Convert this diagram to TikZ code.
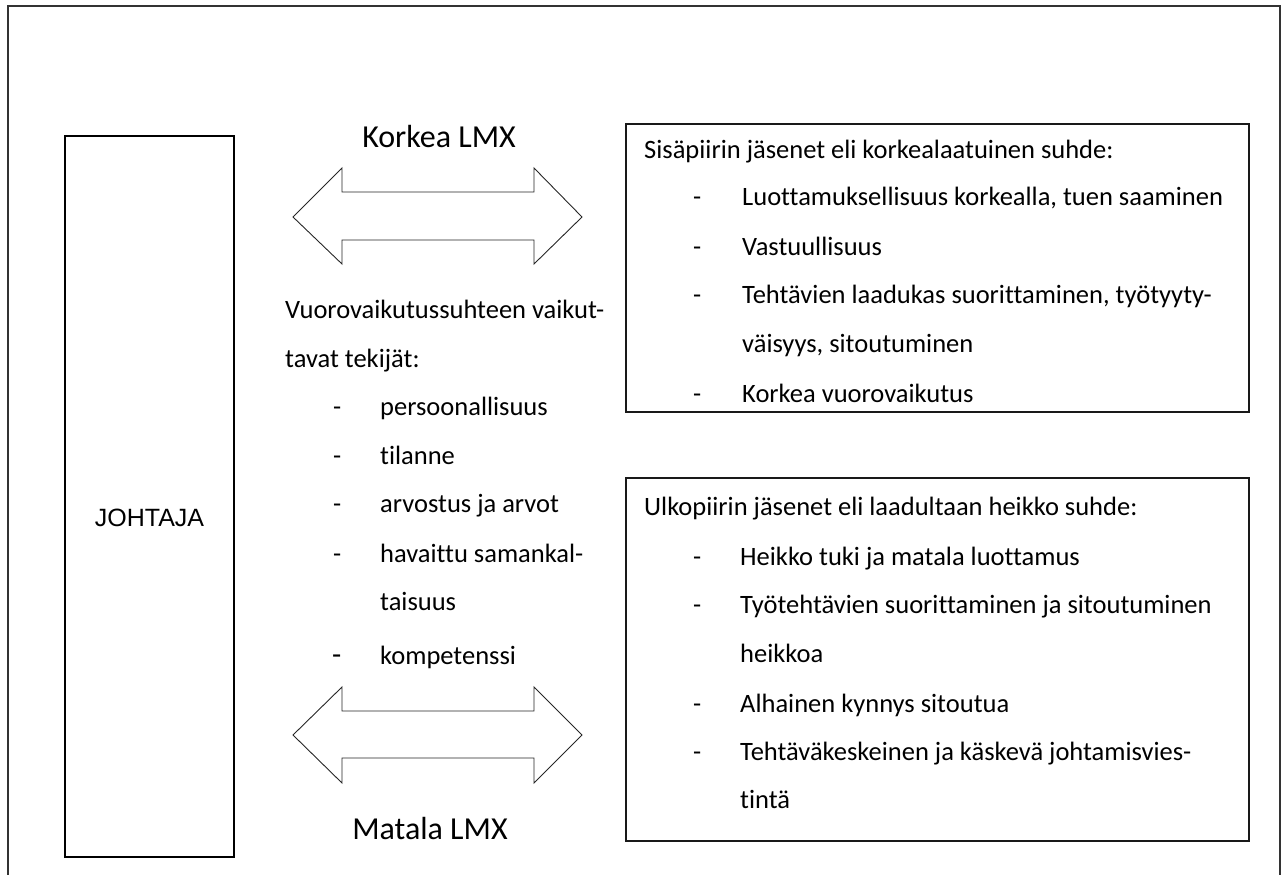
\documentclass[tikz,border=0pt]{standalone}
\usepackage{fontspec}
\setmainfont{Carlito}[Ligatures=NoCommon]
\newfontfamily\arialfont{Liberation Sans}
\begin{document}
\begin{tikzpicture}[x=1pt,y=-1pt,
  frame/.style={draw=black!80, line width=1.4pt},
  leaderbox/.style={draw=black, line width=2pt},
  groupbox/.style={draw=black!90, line width=1.5pt},
  blockarrow/.style={draw=black!85, line width=0.9pt, line join=miter},
  txt/.style={anchor=base west, inner sep=0pt, font=\fontsize{26.5}{30}\selectfont},
  big/.style={anchor=base, inner sep=0pt, font=\fontsize{32}{36}\selectfont}]
\useasboundingbox (0,0) rectangle (1288,875);

% outer frame (open at the bottom)
\draw[frame] (8,875) -- (8,6) -- (1280,6) -- (1280,875);

% leader box
\draw[leaderbox] (65,136) rectangle (234,857);
\node[inner sep=0pt, font=\arialfont\fontsize{25}{30}\selectfont] (leader) at (149.5,518) {JOHTAJA};

% double block arrows
\draw[blockarrow] (293,217) -- (342,168) -- (342,192) -- (534,192) -- (534,168) -- (582,217)
  -- (534,264) -- (534,240) -- (342,240) -- (342,264) -- cycle;
\draw[blockarrow] (293,735) -- (342,687) -- (342,711) -- (534,711) -- (534,687) -- (582,735)
  -- (534,783) -- (534,758) -- (342,758) -- (342,783) -- cycle;

\node[big] (high) at (439,147) {Korkea LMX};
\node[big] (low) at (430,839) {Matala LMX};

% factors in the middle
\node[txt] (f0) at (285,318) {Vuorovaikutussuhteen vaikut-};
\node[txt] (f0b) at (285,367) {tavat tekijät:};
\node[txt] at (333,415) {-};
\node[txt] (f1) at (380,415) {persoonallisuus};
\node[txt] at (333,464) {-};
\node[txt] (f2) at (380,464) {tilanne};
\node[txt] at (333,512) {-};
\node[txt] (f3) at (380,512) {arvostus ja arvot};
\node[txt] at (333,562) {-};
\node[txt] (f4) at (380,562) {havaittu samankal-};
\node[txt] (f4b) at (380,610) {taisuus};
\node[txt, font=\fontsize{30}{34}\selectfont] at (332,664) {-};
\node[txt] (f5) at (380,664) {kompetenssi};

% in-group box
\draw[groupbox] (626,124) rectangle (1249,412);
\node[txt] (in0) at (644,158) {Sisäpiirin jäsenet eli korkealaatuinen suhde:};
\node[txt] at (693,205) {-};
\node[txt] (in1) at (742,205) {Luottamuksellisuus korkealla, tuen saaminen};
\node[txt] at (693,255) {-};
\node[txt] (in2) at (742,255) {Vastuullisuus};
\node[txt] at (693,303) {-};
\node[txt] (in3) at (742,303) {Tehtävien laadukas suorittaminen, työtyyty-};
\node[txt] (in3b) at (742,352) {väisyys, sitoutuminen};
\node[txt] at (693,402) {-};
\node[txt] (in4) at (742,402) {Korkea vuorovaikutus};

% out-group box
\draw[groupbox] (626,478) rectangle (1249,841);
\node[txt] (out0) at (644,515) {Ulkopiirin jäsenet eli laadultaan heikko suhde:};
\node[txt] at (693,565) {-};
\node[txt] (out1) at (740,565) {Heikko tuki ja matala luottamus};
\node[txt] at (693,613) {-};
\node[txt] (out2) at (740,613) {Työtehtävien suorittaminen ja sitoutuminen};
\node[txt] (out2b) at (740,662) {heikkoa};
\node[txt] at (693,712) {-};
\node[txt] (out3) at (740,712) {Alhainen kynnys sitoutua};
\node[txt] at (693,760) {-};
\node[txt] (out4) at (740,760) {Tehtäväkeskeinen ja käskevä johtamisvies-};
\node[txt] (out4b) at (740,808) {tintä};
\end{tikzpicture}
\end{document}
